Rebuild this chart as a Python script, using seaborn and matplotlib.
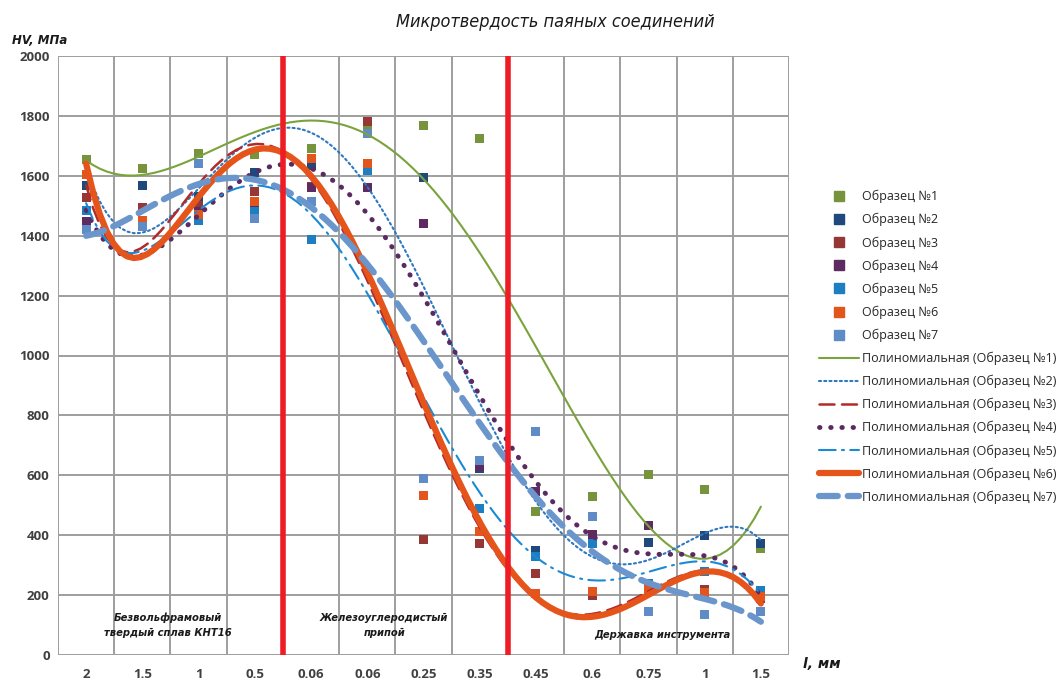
import numpy as np
import pandas as pd
import matplotlib
matplotlib.use("Agg")
import matplotlib.pyplot as plt
import seaborn as sns
from matplotlib.lines import Line2D

categories = ["2", "1.5", "1", "0.5", "0.06", "0.06", "0.25", "0.35", "0.45", "0.6", "0.75", "1", "1.5"]

s1 = [1655, 1625, 1673, 1670, 1690, 1770, 1768, 1723, 478, 529, 603, 553, 356]
s2 = [1566, 1566, 1530, 1610, 1636, 1625, 1595, 623, 348, 404, 375, 398, 373]
s3 = [1529, 1495, 1500, 1547, 1565, 1781, 384, 373, 273, 200, 220, 220, 190]
s4 = [1447, 1430, 1480, 1486, 1560, 1562, 1441, 630, 545, 404, 434, 280, 200]
s5 = [1484, 1430, 1450, 1480, 1386, 1617, 590, 490, 328, 373, 239, 280, 217]
s6 = [1605, 1452, 1470, 1513, 1658, 1640, 534, 412, 206, 211, 219, 209, 195]
s7 = [1420, 1430, 1640, 1458, 1513, 1742, 590, 651, 746, 462, 145, 134, 145]

series_names = ["Образец №1", "Образец №2", "Образец №3", "Образец №4",
                "Образец №5", "Образец №6", "Образец №7"]
series_values = [s1, s2, s3, s4, s5, s6, s7]
trend_orders = [4, 5, 6, 5, 6, 6, 5]

title = "Микротвердость паяных соединений"
ylabel = "HV, МПа"
xlabel = "l, мм"
zone_labels = ["Безвольфрамовый\nтвердый сплав КНТ16", "Железоуглеродистый\nприпой", "Державка инструмента"]

marker_colors = ["#77933C", "#1F497D", "#953735", "#5E2A62", "#1D7FC1", "#E2561E", "#5F8CC6"]
line_colors = ["#7AA33D", "#2E78C0", "#B22A2A", "#5C2A62", "#1A8AD4", "#E5541B", "#6A96CC"]
line_styles = ["-", (0, (1, 1.5)), (0, (6, 3)), (0, (0.1, 2.2)), (0, (8, 3, 1, 3)), "-", (0, (3, 1.6))]
line_widths = [1.5, 1.5, 1.8, 3.5, 1.5, 4.5, 4.5]

sns.set_style("white")
plt.rcParams['font.family'] = ['Open Sans', 'DejaVu Sans']

fig = plt.figure(figsize=(10.62, 6.82), dpi=100)
ax = fig.add_axes([58/1062, 1-655/682, (789-58)/1062, (655-56)/682])

x = np.arange(len(categories))
for b in np.arange(-0.5, len(categories), 1.0):
    ax.axvline(b, color="#9e9e9e", lw=1.4, zorder=0)
for yv in range(0, 2001, 200):
    ax.axhline(yv, color="#9e9e9e", lw=1.4, zorder=0)

for name, vals, mc in zip(series_names, series_values, marker_colors):
    df = pd.DataFrame({"x": x, "y": vals})
    sns.scatterplot(data=df, x="x", y="y", ax=ax, marker="s", s=42, color=mc,
                    edgecolor="none", zorder=3)

for vals, order, lc, ls, lw in zip(series_values, trend_orders, line_colors, line_styles, line_widths):
    df = pd.DataFrame({"x": x, "y": vals})
    sns.regplot(data=df, x="x", y="y", ax=ax, order=order, ci=None, scatter=False,
                truncate=True,
                line_kws=dict(color=lc, linestyle=ls, lw=lw, zorder=4,
                              dash_capstyle="round", solid_capstyle="round"))

for b in [3.5, 7.5]:
    ax.axvline(b, color="#EE1C25", lw=4, zorder=5)

ax.set_xlim(-0.5, len(categories) - 0.5)
ax.set_ylim(0, 2000)
ax.set_yticks(range(0, 2001, 200))
ax.set_yticklabels([str(v) for v in range(0, 2001, 200)], fontsize=9.5,
                   fontweight="bold", color="#404040")
ax.set_xticks(x)
ax.set_xticklabels(categories, fontsize=9.5, fontweight="bold", color="#404040")
ax.tick_params(axis="x", length=0, pad=9.5)
ax.tick_params(axis="y", length=0, pad=6)
ax.set_xlabel("")
ax.set_ylabel("")
for sp in ax.spines.values():
    sp.set_visible(False)

fig.text(555/1062, 1-22/682, title, ha="center", va="center", fontsize=13,
         fontstyle="italic", fontstretch="condensed", color="#1a1a1a", family="DejaVu Sans")
fig.text(12/1062, 1-41/682, ylabel, ha="left", va="center", fontsize=8.5,
         fontstyle="italic", fontweight="bold", color="#1a1a1a", family="DejaVu Sans")
fig.text(803/1062, 1-664/682, xlabel, ha="left", va="center", fontsize=10,
         fontstyle="italic", fontweight="bold", color="#1a1a1a", family="DejaVu Sans")

zkw = dict(ha="center", va="center", fontsize=7.2, fontstyle="italic", fontweight="bold",
           color="#1a1a1a", family="DejaVu Sans", zorder=6, linespacing=1.6)
ax.text(1.45, 98, zone_labels[0], **zkw)
ax.text(5.3, 98, zone_labels[1], **zkw)
ax.text(10.25, 68, zone_labels[2], **zkw)

handles = []
for mc in marker_colors:
    handles.append(Line2D([], [], marker="s", linestyle="none", color=mc, markersize=6.5))
for lc, ls, lw in zip(line_colors, line_styles, line_widths):
    handles.append(Line2D([], [], color=lc, linestyle=ls, lw=lw, dash_capstyle="round"))
labels = series_names + [f"Полиномиальная ({n})" for n in series_names]
leg = fig.legend(handles, labels, loc="upper left", bbox_to_anchor=(814/1062, 1-185/682),
                 frameon=False, fontsize=9, handlelength=3.2, labelspacing=0.78,
                 handletextpad=0.25, borderaxespad=0)
for t in leg.get_texts():
    t.set_color("#262626")

fig.savefig("out.png", dpi=100)
